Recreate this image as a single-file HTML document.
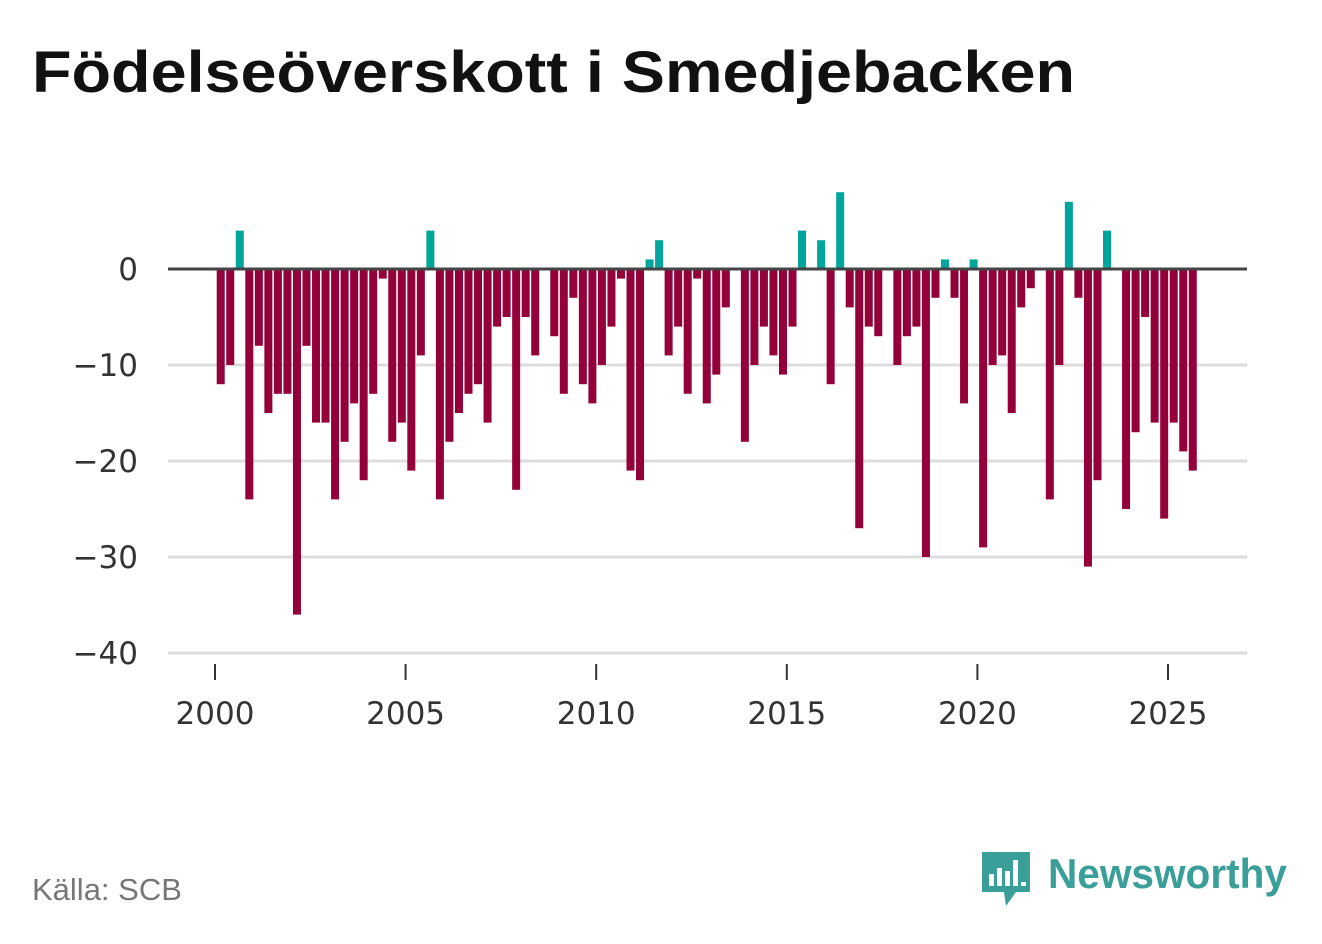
<!DOCTYPE html>
<html><head><meta charset="utf-8"><style>
body{margin:0;background:#fff;width:1322px;height:939px;overflow:hidden;font-family:"Liberation Sans","DejaVu Sans",sans-serif}
</style></head><body>
<svg width="1322" height="939" xmlns="http://www.w3.org/2000/svg">
<text x="32" y="92" font-size="58" font-weight="bold" fill="#111" textLength="1043" lengthAdjust="spacingAndGlyphs">Födelseöverskott i Smedjebacken</text>
<g id="grid"></g><g id="bars"></g><g id="axes"></g>
<text x="32" y="900" font-size="31" fill="#777">Källa: SCB</text>
<g>
<path d="M982 852h48v40h-14l-10 14-2-14h-22z" fill="#3a9f99"/>
<rect x="989" y="874" width="5" height="12" fill="#fff"/><rect x="997" y="868" width="5" height="18" fill="#fff"/><rect x="1005" y="871" width="5" height="15" fill="#fff"/><rect x="1013" y="860" width="5" height="26" fill="#fff"/><rect x="1021" y="882" width="5" height="4" fill="#fff"/>
<text x="1048" y="888" font-size="42" font-weight="bold" fill="#3a9f99" textLength="239" lengthAdjust="spacingAndGlyphs">Newsworthy</text>
</g>
</svg>
<script>
const values=[-12,-10,4,-24,-8,-15,-13,-13,-36,-8,-16,-16,-24,-18,-14,-22,-13,-1,-18,-16,-21,-9,4,-24,-18,-15,-13,-12,-16,-6,-5,-23,-5,-9,0,-7,-13,-3,-12,-14,-10,-6,-1,-21,-22,1,3,-9,-6,-13,-1,-14,-11,-4,0,-18,-10,-6,-9,-11,-6,4,0,3,-12,8,-4,-27,-6,-7,0,-10,-7,-6,-30,-3,1,-3,-14,1,-29,-10,-9,-15,-4,-2,0,-24,-10,7,-3,-31,-22,4,0,-25,-17,-5,-16,-26,-16,-19,-21];
const startYear=2000;
const yTicks=[0,-10,-20,-30,-40];
const yTickLabels=["0","\u221210","\u221220","\u221230","\u221240"];
const xTicks=[2000,2005,2010,2015,2020,2025];
const NS="http://www.w3.org/2000/svg";
const y=v=>269-v*9.6;
const x=t=>215+(t-2000)*38.12;
const grid=document.getElementById('grid'),bars=document.getElementById('bars'),axes=document.getElementById('axes');
function mk(tag,attrs,parent){const e=document.createElementNS(NS,tag);for(const k in attrs)e.setAttribute(k,attrs[k]);parent.appendChild(e);return e;}
yTicks.forEach((v,i)=>{
  if(v!==0){const l=mk('line',{x1:168,x2:1247,y1:y(v),y2:y(v),stroke:'#ddd','stroke-width':3},grid);
  
  }
  const t=mk('text',{x:138,y:y(v)+11,'font-size':31,fill:'#333','text-anchor':'end','font-family':'DejaVu Sans, sans-serif'},axes);
  t.textContent=yTickLabels[i];
  
  
});
values.forEach((v,i)=>{
  if(v===0)return;
  const cx=x(startYear+i/4+0.15);
  const r=mk('rect',{x:cx-4,width:8,y:v>0?y(v):y(0),height:Math.abs(v)*9.6,fill:v>0?'#00a59b':'#93003a'},bars);
  
  
});
const base=mk('line',{x1:168,x2:1247,y1:269,y2:269,stroke:'#444','stroke-width':3},axes);


xTicks.forEach(yr=>{
  const tk=mk('line',{x1:x(yr),x2:x(yr),y1:664,y2:680,stroke:'#333','stroke-width':2},axes);
  
  
  const t=mk('text',{x:x(yr),y:724,'font-size':31,fill:'#333','text-anchor':'middle','font-family':'DejaVu Sans, sans-serif'},axes);
  t.textContent=yr;
  
  
});
</script>
</body></html>
